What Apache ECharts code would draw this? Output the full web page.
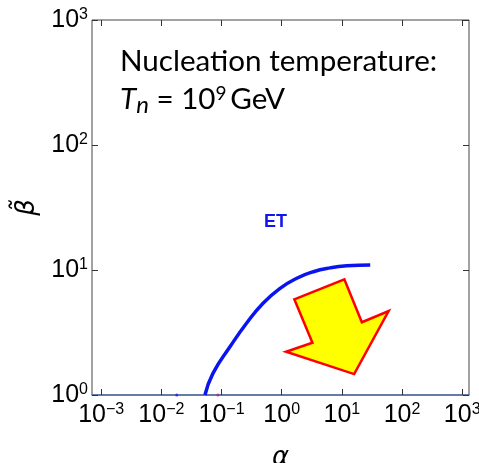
<!DOCTYPE html>
<html>
<head>
<meta charset="utf-8">
<title>ET nucleation</title>
<script src="https://cdn.jsdelivr.net/npm/echarts/dist/echarts.min.js"></script>
<style>
html, body { margin: 0; padding: 0; background: #fff; }
#chart { width: 479px; height: 463px; }
</style>
</head>
<body>
<div id="chart"></div>
<script>
// blue ET curve (alpha, beta-tilde)
var curveAlpha = [0.053, 0.072, 0.138, 0.26, 0.49, 0.94, 1.78, 3.36, 6.4, 12.1, 29.6];
var curveBeta = [1.0, 1.49, 2.43, 3.75, 5.42, 7.14, 8.59, 9.69, 10.4, 10.8, 10.96];

// corners of the yellow arrow (alpha, beta-tilde)
var arrowAlpha = [1.62, 11.0, 21.5, 59.8, 16.0, 1.18, 3.24];
var arrowBeta = [5.83, 8.43, 3.82, 4.70, 1.47, 2.22, 2.62];

// two tiny marks sitting on the beta-tilde = 1 line
var dotAlpha = [0.018, 0.087];
var dotBeta = [1, 1];
var dotColor = ['#1a1aff', '#b0208a'];

// decade ticks, as exponents of 10
var xTickExp = [-3, -2, -1, 0, 1, 2, 3];
var yTickExp = [0, 1, 2, 3];

// axis extents in log10 units
var xMin = -3.153, xMax = 3.113;
var yMin = 0, yMax = 3;

var lg = Math.log10;

function decadeLabel(v) {
  var e = Math.round(v);
  return '{b|10}{s|' + (e < 0 ? '\u2212' + (-e) : e) + '}';
}

var labelRich = {
  b: { fontSize: 25, lineHeight: 29, fontFamily: 'Liberation Sans', color: '#000' },
  s: { fontSize: 16, verticalAlign: 'top', padding: [1, 0, 0, 0], fontFamily: 'Liberation Sans', color: '#000' }
};

var tickStyle = { inside: true, length: 6, lineStyle: { color: '#333', width: 1 } };

var curveData = curveAlpha.map(function (a, i) {
  return [lg(a), lg(curveBeta[i])];
});

var dotData = dotAlpha.map(function (a, i) {
  return { value: [lg(a), lg(dotBeta[i])], itemStyle: { color: dotColor[i] } };
});

var myChart = echarts.init(document.getElementById('chart'));

var option = {
  animation: false,
  grid: {
    left: 92, right: 10, top: 20, bottom: 68,
    outerBoundsMode: 'none',
    show: true, borderColor: '#444', borderWidth: 1
  },
  xAxis: [
    {
      type: 'value', position: 'bottom', min: xMin, max: xMax,
      name: '\u03B1', nameLocation: 'middle', nameGap: 50,
      nameTextStyle: { fontSize: 26, fontStyle: 'italic', fontFamily: 'DejaVu Sans', color: '#000' },
      axisLine: { show: true, onZero: false, lineStyle: { color: '#4f72aa', width: 1.5 } },
      axisTick: Object.assign({ customValues: xTickExp }, tickStyle),
      axisLabel: { customValues: xTickExp, margin: 6, formatter: decadeLabel, rich: labelRich },
      splitLine: { show: false }
    },
    {
      type: 'value', position: 'top', min: xMin, max: xMax,
      axisLine: { show: false, onZero: false },
      axisTick: Object.assign({ customValues: xTickExp }, tickStyle),
      axisLabel: { show: false },
      splitLine: { show: false }
    }
  ],
  yAxis: [
    {
      type: 'value', position: 'left', min: yMin, max: yMax,
      name: '\u03B2\u0303', nameLocation: 'middle', nameGap: 46, nameRotate: 90,
      nameTextStyle: { fontSize: 26, fontStyle: 'italic', fontFamily: 'DejaVu Sans', color: '#000' },
      axisLine: { show: false, onZero: false },
      axisTick: Object.assign({ customValues: yTickExp }, tickStyle),
      axisLabel: { customValues: yTickExp, margin: 4, formatter: decadeLabel, rich: labelRich },
      splitLine: { show: false }
    },
    {
      type: 'value', position: 'right', min: yMin, max: yMax,
      axisLine: { show: false, onZero: false },
      axisTick: Object.assign({ customValues: yTickExp }, tickStyle),
      axisLabel: { show: false },
      splitLine: { show: false }
    }
  ],
  series: [
    {
      name: 'ET',
      type: 'line',
      data: curveData,
      smooth: true,
      showSymbol: false,
      lineStyle: { color: '#0a14ee', width: 3.5 }
    },
    {
      name: 'dots',
      type: 'scatter',
      data: dotData,
      symbolSize: 3,
      z: 3
    },
    {
      name: 'arrow',
      type: 'custom',
      data: [[0, 0]],
      renderItem: function (params, api) {
        var pts = arrowAlpha.map(function (a, i) {
          return api.coord([lg(a), lg(arrowBeta[i])]);
        });
        return {
          type: 'polygon',
          shape: { points: pts },
          style: { fill: '#ffff00', stroke: '#ff0000', lineWidth: 2.5, lineJoin: 'miter' }
        };
      }
    }
  ],
  graphic: [
    {
      type: 'text', left: 120, top: 46,
      style: {
        text: 'Nucleation temperature:',
        font: '29.6px Lato', fill: '#000'
      }
    },
    {
      type: 'text', left: 120, top: 84,
      style: {
        text: '{t|T}{sub|n}{n| = 10}{sup|9}{n|\u2009GeV}',
        rich: {
          t: { fontSize: 29.6, lineHeight: 36, fontStyle: 'italic', fontFamily: 'Lato', fill: '#000' },
          sub: { fontSize: 24, verticalAlign: 'bottom', fontStyle: 'italic', fontFamily: 'Lato', fill: '#000' },
          n: { fontSize: 29.6, lineHeight: 36, fontFamily: 'Lato', fill: '#000' },
          sup: { fontSize: 19, verticalAlign: 'top', padding: [3, 0, 0, 0], fontFamily: 'Lato', fill: '#000' }
        }
      }
    },
    {
      type: 'text', left: 264, top: 213,
      style: { text: 'ET', font: 'bold 18px Liberation Sans', fill: '#1414f0' }
    }
  ]
};

myChart.setOption(option);
</script>
</body>
</html>
